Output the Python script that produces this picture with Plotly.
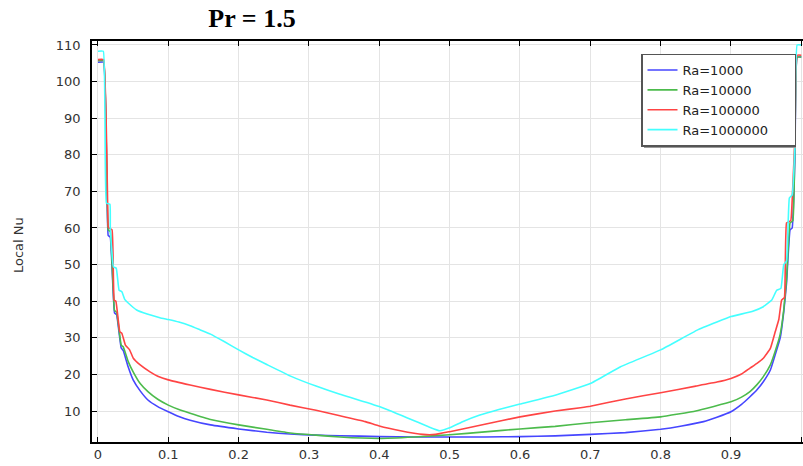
import plotly.graph_objects as go

# ---- data ----
x_ra1e3 = [0, 0.008, 0.0145, 0.0175, 0.0235, 0.0265, 0.033, 0.036, 0.043, 0.05, 0.06, 0.071,
           0.085, 0.1, 0.115, 0.131, 0.16, 0.2, 0.24, 0.273, 0.31, 0.344, 0.4, 0.45, 0.5, 0.55, 0.6,
           0.65, 0.7, 0.75, 0.8, 0.83, 0.861, 0.88, 0.9, 0.915, 0.927, 0.937, 0.946, 0.956,
           0.965, 0.97, 0.975, 0.979, 0.984, 0.987, 0.991, 0.994, 1.0]
y_ra1e3 = [105.3, 105.3, 58, 57.5, 36.8, 36.3, 27.2, 26.5, 22, 18.5, 15.5, 13,
           11.2, 9.8, 8.5, 7.5, 6.2, 5.1, 4.2, 3.7, 3.4, 3.25, 3.0, 2.9, 2.9, 2.9, 3.0,
           3.2, 3.6, 4.1, 5.0, 5.9, 7.1, 8.3, 9.8, 11.8, 13.9, 15.8, 18, 21.2,
           26.7, 30, 37.1, 45, 59.5, 60, 80, 106.7, 106.7]

x_ra1e4 = [0, 0.008, 0.0145, 0.0175, 0.0235, 0.0265, 0.033, 0.036, 0.043, 0.05, 0.06, 0.071,
           0.085, 0.1, 0.115, 0.131, 0.16, 0.2, 0.24, 0.273, 0.31, 0.344, 0.4, 0.45, 0.5, 0.55, 0.6,
           0.65, 0.7, 0.75, 0.8, 0.85, 0.9, 0.915, 0.927, 0.937, 0.946, 0.956, 0.965, 0.97,
           0.975, 0.979, 0.984, 0.988, 0.991, 0.994, 1.0]
y_ra1e4 = [105.7, 105.7, 59.5, 59, 37.5, 37, 28, 27.5, 23.5, 20.7, 17.5, 15.3,
           13.2, 11.6, 10.4, 9.4, 7.7, 6.2, 5.0, 4.0, 3.4, 2.9, 2.5, 2.9, 3.5, 4.3, 5.1,
           5.8, 6.8, 7.6, 8.4, 10.0, 12.5, 13.8, 15.3, 17.2, 19.4, 22.6, 27.6, 31,
           37.6, 46, 61.4, 62, 85, 106.7, 106.7]

x_ra1e5 = [0, 0.008, 0.0145, 0.0155, 0.02, 0.023, 0.0255, 0.031, 0.034, 0.039, 0.045, 0.05,
           0.06, 0.074, 0.085, 0.1, 0.131, 0.16, 0.2, 0.24, 0.273, 0.31, 0.344, 0.38, 0.4,
           0.43, 0.462, 0.48, 0.5, 0.55, 0.6, 0.65, 0.686, 0.7, 0.75, 0.8, 0.85, 0.88, 0.9, 0.915,
           0.927, 0.937, 0.946, 0.956, 0.963, 0.968, 0.972, 0.976, 0.979, 0.985, 0.987, 0.991,
           0.994, 1.0]
y_ra1e5 = [106, 106, 60.4, 60, 59.5, 40.3, 40, 31.7, 31.2, 28, 26.7, 24.5,
           22.6, 20.7, 19.5, 18.5, 17.1, 15.9, 14.4, 13, 11.6, 10.2, 8.7, 7.1, 5.9,
           4.6, 3.6, 3.6, 4.35, 6.4, 8.4, 10.0, 10.9, 11.3, 13.3, 15, 16.8, 17.9, 18.9, 20.1,
           21.7, 23.0, 24.4, 27.1, 31.7, 35, 40.3, 41, 61.4, 62, 67.6, 85,
           107.2, 107.2]

x_ra1e6 = [0, 0.0076, 0.012, 0.017, 0.0175, 0.022, 0.026, 0.03, 0.034, 0.038, 0.043, 0.055,
           0.07, 0.088, 0.1, 0.115, 0.131, 0.145, 0.16, 0.18, 0.2, 0.22, 0.24, 0.273, 0.31,
           0.344, 0.4, 0.44, 0.47, 0.486, 0.5, 0.52, 0.543, 0.57, 0.6, 0.65, 0.7, 0.743, 0.8,
           0.852, 0.88, 0.9, 0.93, 0.946, 0.958, 0.965, 0.971, 0.975, 0.979, 0.983, 0.987,
           0.991, 0.994, 1.0]
y_ra1e6 = [108.3, 108.3, 66.8, 66.5, 60, 49.4, 49, 43, 42.6, 40.5, 39.5, 37.6,
           36.5, 35.5, 35, 34.3, 33.3, 32.2, 31, 28.9, 26.7, 24.6, 22.7, 19.6, 16.8,
           14.6, 11.2, 8.1, 5.7, 4.6, 5.4, 7.2, 8.9, 10.4, 11.9, 14.3, 17.5, 22.1, 26.7,
           32.1, 34.3, 35.8, 37.2, 38.5, 40.3, 43, 43.5, 50, 51, 68.2, 69,
           83, 110, 110]

series_names = ["Ra=1000", "Ra=10000", "Ra=100000", "Ra=1000000"]
series_x = [x_ra1e3, x_ra1e4, x_ra1e5, x_ra1e6]
series_y = [y_ra1e3, y_ra1e4, y_ra1e5, y_ra1e6]
colors = ["#4646ff", "#4cbb4c", "#ff4444", "#44ffff"]

x_ticks = [0, 0.1, 0.2, 0.3, 0.4, 0.5, 0.6, 0.7, 0.8, 0.9, 1]
x_ticklabels = ["0", "0.1", "0.2", "0.3", "0.4", "0.5", "0.6", "0.7", "0.8", "0.9", "1"]
y_ticks = [10, 20, 30, 40, 50, 60, 70, 80, 90, 100, 110]

fig = go.Figure()
for i, (name, xs, ys, c) in enumerate(zip(series_names, series_x, series_y, colors)):
    label = name + ("\u00a0" * 5 if i == len(series_names) - 1 else "")
    fig.add_trace(go.Scatter(x=xs, y=ys, mode="lines", name=label,
                             line=dict(color=c, width=1.6, shape="spline", smoothing=0.3)))

W, H = 803, 466
L, R, T, B = 92, 0, 41, 24
pw, ph = W - L - R, H - T - B

tickfont = dict(family="DejaVu Sans", size=13, color="#333333")
fig.update_layout(
    width=W, height=H,
    margin=dict(l=L, r=R, t=T, b=B, pad=0),
    paper_bgcolor="white", plot_bgcolor="white",
    title=dict(text="<b>Pr = 1.5</b>", x=252 / W, xref="container", xanchor="center",
               y=1 - 18 / H, yref="container", yanchor="middle",
               font=dict(family="Liberation Serif", size=26, color="black")),
    showlegend=True,
    legend=dict(x=(641 - L) / pw, y=(442 - 53.5) / ph,
                xanchor="left", yanchor="top",
                bgcolor="white", bordercolor="#555555", borderwidth=1.5,
                font=dict(family="DejaVu Sans", size=13, color="#222222"),
                tracegroupgap=0),
)
fig.update_xaxes(range=[-0.0085, 1.0024], tickvals=x_ticks, ticktext=x_ticklabels,
                 showgrid=True, gridcolor="#e4e4e4", gridwidth=1,
                 showline=True, linecolor="black", linewidth=1.5,
                 ticks="inside", ticklen=5, tickcolor="black", tickwidth=1,
                 mirror="ticks", zeroline=False, tickfont=tickfont)
fig.update_yaxes(range=[1.53, 111.09], tickvals=y_ticks,
                 showgrid=True, gridcolor="#e4e4e4", gridwidth=1,
                 showline=True, linecolor="black", linewidth=1.5,
                 ticks="inside", ticklen=5, tickcolor="black", tickwidth=1,
                 ticklabelstandoff=7,
                 zeroline=False, tickfont=tickfont)

fig.add_annotation(text="Local Nu", textangle=-90, xref="paper", yref="paper",
                   x=(18 - L) / pw, y=(442 - 245) / ph,
                   xanchor="center", yanchor="middle", showarrow=False,
                   font=dict(family="DejaVu Sans", size=13, color="#333333"))

# legend shadow
fig.add_shape(type="rect", xref="paper", yref="paper",
              x0=(644 - L) / pw, x1=(796 - L) / pw,
              y0=(442 - 148) / ph, y1=(442 - 57) / ph,
              fillcolor="#9a9a9a", line=dict(width=0), layer="above")

fig.write_html("out.html")
